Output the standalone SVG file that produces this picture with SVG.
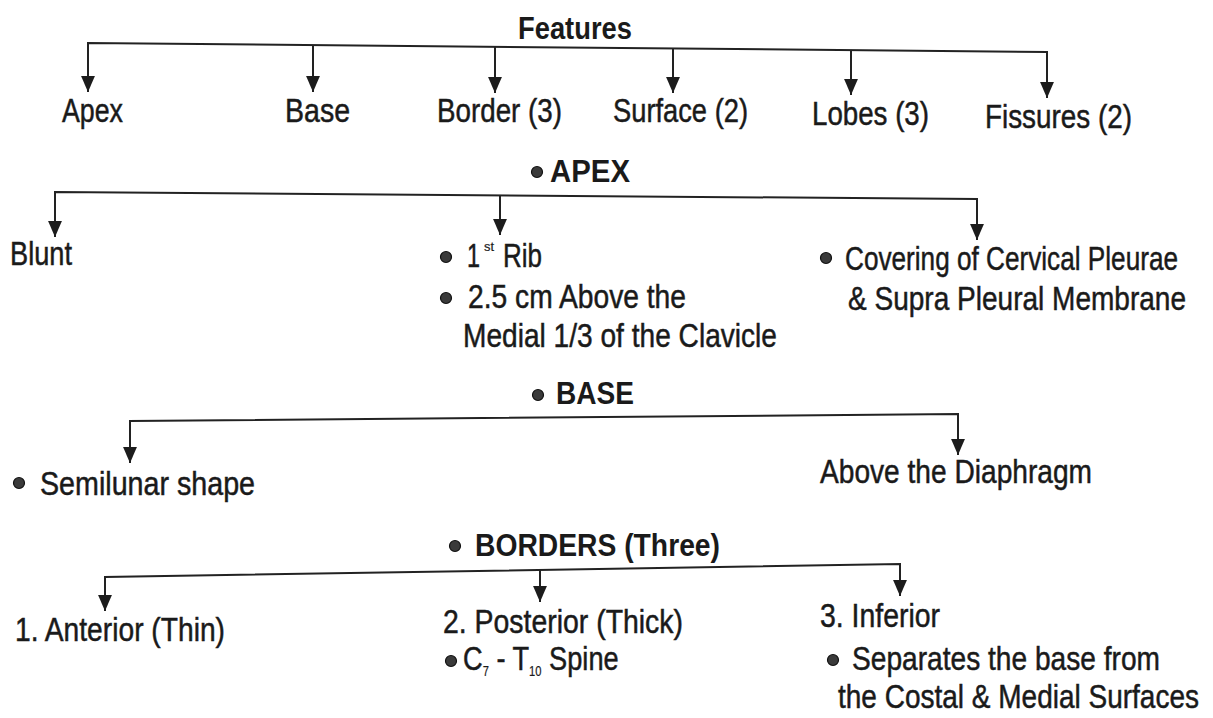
<svg xmlns="http://www.w3.org/2000/svg" width="1213" height="718" viewBox="0 0 1213 718">
<defs>
<style>
.t{font-family:"Liberation Sans",Arial,sans-serif;font-size:34px;fill:#1a1a1a;stroke:#1a1a1a;stroke-width:0.5}
.h{font-family:"Liberation Sans",Arial,sans-serif;font-size:31px;font-weight:bold;fill:#1a1a1a}
.c{fill:none;stroke:#222;stroke-width:2;stroke-linejoin:miter}
.b{fill:#3a3a3a;stroke:#111;stroke-width:1.2}
</style>
<marker id="ah" markerUnits="userSpaceOnUse" markerWidth="16" markerHeight="16" viewBox="0 -7 15 14" refX="15" refY="0" orient="auto-start-reverse">
<path d="M0,-6.5 L15,0 L0,6.5 z" fill="#1c1c1c"/>
</marker>
</defs>
<rect width="1213" height="718" fill="#ffffff"/>

<g id="connectors">
<path class="c" d="M88,92 L88,43 L1047,52 L1047,98" marker-start="url(#ah)" marker-end="url(#ah)"/>
<path class="c" d="M313,45 L313,92" marker-end="url(#ah)"/>
<path class="c" d="M495,47 L495,93" marker-end="url(#ah)"/>
<path class="c" d="M673,48.5 L673,93" marker-end="url(#ah)"/>
<path class="c" d="M851,50 L851,95" marker-end="url(#ah)"/>

<path class="c" d="M55,237 L55,192 L977,199 L977,240" marker-start="url(#ah)" marker-end="url(#ah)"/>
<path class="c" d="M500,195.5 L500,235" marker-end="url(#ah)"/>

<path class="c" d="M130,463 L130,421 L958,414 L958,455" marker-start="url(#ah)" marker-end="url(#ah)"/>

<path class="c" d="M105,611 L105,577 L900,564 L900,596" marker-start="url(#ah)" marker-end="url(#ah)"/>
<path class="c" d="M540,570 L540,602" marker-end="url(#ah)"/>
</g>

<g id="features">
<text class="h" x="518" y="39" textLength="114" lengthAdjust="spacingAndGlyphs">Features</text>
</g>
<g id="apex-label"><text class="t" x="62" y="122" textLength="61" lengthAdjust="spacingAndGlyphs">Apex</text></g>
<g id="base-label"><text class="t" x="285" y="122" textLength="65" lengthAdjust="spacingAndGlyphs">Base</text></g>
<g id="border-label"><text class="t" x="437" y="122" textLength="125" lengthAdjust="spacingAndGlyphs">Border (3)</text></g>
<g id="surface-label"><text class="t" x="613" y="122" textLength="135" lengthAdjust="spacingAndGlyphs">Surface (2)</text></g>
<g id="lobes-label"><text class="t" x="812" y="125" textLength="117" lengthAdjust="spacingAndGlyphs">Lobes (3)</text></g>
<g id="fissures-label"><text class="t" x="985" y="128" textLength="147" lengthAdjust="spacingAndGlyphs">Fissures (2)</text></g>

<g id="apex-heading">
<circle class="b" cx="537" cy="172" r="5.5"/>
<text class="h" x="550" y="182" textLength="80" lengthAdjust="spacingAndGlyphs">APEX</text>
</g>
<g id="blunt"><text class="t" x="10" y="265" textLength="62" lengthAdjust="spacingAndGlyphs">Blunt</text></g>
<g id="rib">
<circle class="b" cx="446" cy="257" r="5.5"/>
<text class="t" x="467" y="267" textLength="13" lengthAdjust="spacingAndGlyphs">1</text>
<text class="t" x="484" y="251" style="font-size:13px;stroke-width:0.2" textLength="10" lengthAdjust="spacingAndGlyphs">st</text>
<text class="t" x="503" y="267" textLength="39" lengthAdjust="spacingAndGlyphs">Rib</text>
<circle class="b" cx="446" cy="298" r="5.5"/>
<text class="t" x="468" y="308" textLength="218" lengthAdjust="spacingAndGlyphs">2.5 cm Above the</text>
<text class="t" x="463" y="347" textLength="314" lengthAdjust="spacingAndGlyphs">Medial 1/3 of the Clavicle</text>
</g>
<g id="covering">
<circle class="b" cx="826" cy="258" r="5.5"/>
<text class="t" x="845" y="270" textLength="333" lengthAdjust="spacingAndGlyphs">Covering of Cervical Pleurae</text>
<text class="t" x="848" y="310" textLength="338" lengthAdjust="spacingAndGlyphs">&amp; Supra Pleural Membrane</text>
</g>

<g id="base-heading">
<circle class="b" cx="538" cy="395" r="5.5"/>
<text class="h" x="556" y="404" textLength="78" lengthAdjust="spacingAndGlyphs">BASE</text>
</g>
<g id="semilunar">
<circle class="b" cx="19" cy="483" r="5.5"/>
<text class="t" x="40" y="495" textLength="215" lengthAdjust="spacingAndGlyphs">Semilunar shape</text>
</g>
<g id="diaphragm"><text class="t" x="820" y="483" textLength="272" lengthAdjust="spacingAndGlyphs">Above the Diaphragm</text></g>

<g id="borders-heading">
<circle class="b" cx="455" cy="546" r="5.5"/>
<text class="h" x="475" y="556" textLength="245" lengthAdjust="spacingAndGlyphs">BORDERS (Three)</text>
</g>
<g id="anterior"><text class="t" x="15" y="641" textLength="210" lengthAdjust="spacingAndGlyphs">1. Anterior (Thin)</text></g>
<g id="posterior">
<text class="t" x="443" y="633" textLength="240" lengthAdjust="spacingAndGlyphs">2. Posterior (Thick)</text>
<circle class="b" cx="451" cy="661" r="5.5"/>
<text class="t" transform="matrix(0.8 0 0 1 463 670)">C<tspan style="font-size:14px;stroke-width:0.2" dy="6">7</tspan><tspan dy="-6"> - T</tspan><tspan style="font-size:14px;stroke-width:0.2" dy="6">10</tspan><tspan dy="-6"> Spine</tspan></text>
</g>
<g id="inferior">
<text class="t" x="820" y="627" textLength="120" lengthAdjust="spacingAndGlyphs">3. Inferior</text>
<circle class="b" cx="833" cy="660" r="5.5"/>
<text class="t" x="852" y="670" textLength="308" lengthAdjust="spacingAndGlyphs">Separates the base from</text>
<text class="t" x="838" y="708" textLength="361" lengthAdjust="spacingAndGlyphs">the Costal &amp; Medial Surfaces</text>
</g>
</svg>
